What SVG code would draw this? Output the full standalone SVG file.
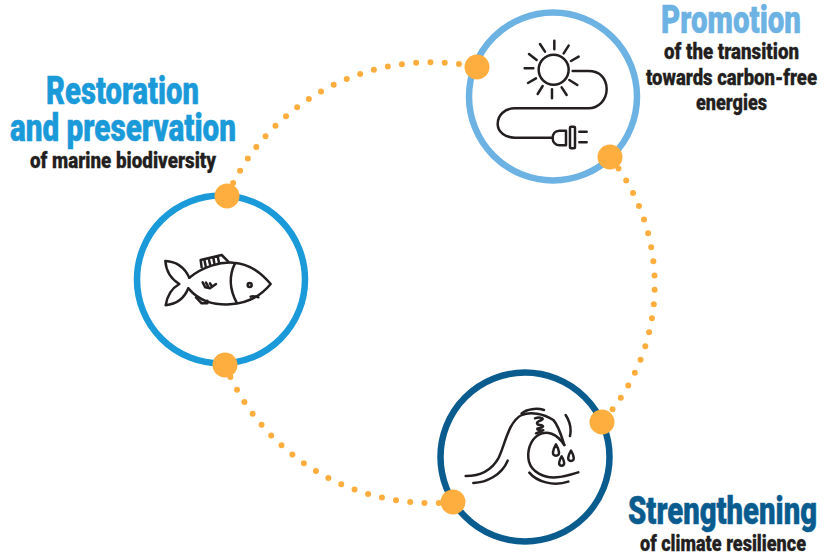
<svg xmlns="http://www.w3.org/2000/svg" width="833" height="554" viewBox="0 0 833 554">
<style>
.ring{fill:#fff;stroke-width:6.5}
.ic{fill:none;stroke:#231f20;stroke-width:7.500;stroke-linecap:round;stroke-linejoin:round}
.dot{fill:#fdae3e}
.dots{fill:none;stroke:#fdae3e;stroke-width:6;stroke-linecap:round;stroke-dasharray:0 14.3}
text{font-family:"Roboto","Liberation Sans",sans-serif;font-weight:900}
.h{font-size:39px;stroke-width:.5}
.s{font-size:22.500px;fill:#231f20;stroke:#231f20;stroke-width:.3}
</style>
<rect width="833" height="554" fill="#fff"/>
<g id="connectors">
<path class="dots" d="M227 196A223 223 0 0 1 477 67"/>
<path class="dots" d="M610 157A205 205 0 0 1 602 422"/>
<path class="dots" d="M453 502A223 223 0 0 1 225 365"/>
</g>
<g id="node-fish">
<circle class="ring" stroke="#1a9ad9" cx="221" cy="279.500" r="84"/>
<g transform="translate(120 180) scale(.3333)">
<path class="ic" d="M208 293C250 260 300 245 340 248C385 250 425 280 452 312C425 345 385 370 330 373C280 375 240 365 205 325"/>
<path class="ic" d="M208 293C195 265 175 245 136 243C138 270 150 295 178 312C155 325 142 345 137 376C175 372 195 350 205 325"/>
<path class="ic" d="M345 250C325 290 330 330 350 368"/>
<circle class="ic" cx="389" cy="315" r="6"/>
<path class="ic" d="M392 350C400 347 408 350 415 352"/>
<path class="ic" d="M245 262L242 240L305 225L325 245M257 258L253 238M270 253L266 235M283 250L280 232M297 248L293 228"/>
<path class="ic" d="M248 307L256 322L270 325L288 312M258 308L265 320M270 310L275 318"/>
<path class="ic" d="M228 352L245 370L262 370L262 362"/>
</g>
</g>
<g id="node-sun">
<circle class="ring" stroke="#6cb2e3" cx="553" cy="96.500" r="84"/>
<g transform="translate(460 10) scale(.3333)">
<circle class="ic" cx="281" cy="179" r="45"/>
<path class="ic" d="M283 92V118M326 107L311 130M356 140L333 153M328 210L352 225M305 232L320 255M276 238V265M248 228L233 252M228 205L204 219M220 175H194M230 150L207 132M255 125L240 102"/>
<path class="ic" d="M338 183H385C420 183 440 205 440 238C440 270 415 295 385 295H165C135 295 113 315 113 342C113 365 135 383 165 383H278"/>
<path class="ic" d="M318 362H298C285 362 278 372 278 385C278 398 288 406 298 406H318Z"/>
<rect class="ic" x="330" y="350" width="15" height="65" rx="3"/>
<path class="ic" d="M358 365H380M358 397H380"/>
</g>
</g>
<g id="node-wave">
<circle class="ring" stroke="#0a5c8f" cx="525" cy="457" r="84.500"/>
<g transform="translate(430 365) scale(.3333)">
<path class="ic" d="M107 333C150 333 185 315 205 280C225 240 235 170 275 150C300 140 340 145 370 165C385 180 395 215 403 240"/>
<path class="ic" d="M403 240C380 205 350 195 325 210C300 225 290 260 297 290C305 320 340 340 380 337C405 335 425 328 445 322"/>
<path class="ic" d="M315 160C330 155 345 160 335 165C320 170 315 178 330 180C345 182 340 188 325 190C315 192 330 198 340 196M318 205L335 198"/>
<path class="ic" d="M275 145C290 132 320 128 342 135M407 150C420 170 425 190 420 213M130 354C170 352 215 330 233 287M298 323C320 350 370 365 415 350"/>
<path class="ic" d="M378 238C388 255 392 272 378 272C364 272 368 255 378 238ZM395 274C404 288 406 302 395 302C384 302 386 288 395 274ZM423 257C432 272 436 288 423 288C410 288 414 272 423 257Z"/>
</g>
</g>
<g id="big-dots">
<circle class="dot" cx="227" cy="196" r="12.500"/>
<circle class="dot" cx="225" cy="365" r="12.500"/>
<circle class="dot" cx="477" cy="67" r="12.500"/>
<circle class="dot" cx="610" cy="157" r="12.500"/>
<circle class="dot" cx="602" cy="422" r="12.500"/>
<circle class="dot" cx="453" cy="502" r="12.500"/>
</g>
<g id="label-restoration">
<text class="h" fill="#1a9ad9" stroke="#1a9ad9" x="46" y="104" textLength="153" lengthAdjust="spacingAndGlyphs">Restoration</text>
<text class="h" fill="#1a9ad9" stroke="#1a9ad9" x="10" y="141" textLength="226" lengthAdjust="spacingAndGlyphs">and preservation</text>
<text class="s" x="30" y="168" textLength="186" lengthAdjust="spacingAndGlyphs">of marine biodiversity</text>
</g>
<g id="label-promotion">
<text class="h" fill="#6cb2e3" stroke="#6cb2e3" x="661" y="33" textLength="140" lengthAdjust="spacingAndGlyphs">Promotion</text>
<text class="s" x="664" y="59" textLength="135" lengthAdjust="spacingAndGlyphs">of the transition</text>
<text class="s" x="646" y="85" textLength="171" lengthAdjust="spacingAndGlyphs">towards carbon-free</text>
<text class="s" x="696" y="110" textLength="71" lengthAdjust="spacingAndGlyphs">energies</text>
</g>
<g id="label-strengthening">
<text class="h" fill="#0a5c8f" stroke="#0a5c8f" x="628" y="524" textLength="189" lengthAdjust="spacingAndGlyphs">Strengthening</text>
<text class="s" x="640" y="551" textLength="166" lengthAdjust="spacingAndGlyphs">of climate resilience</text>
</g>
</svg>
